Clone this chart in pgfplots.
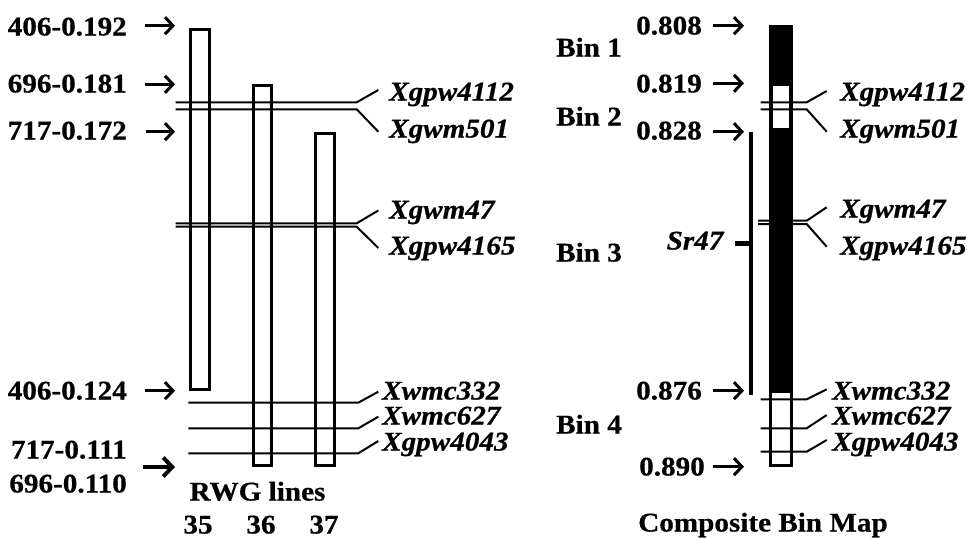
\documentclass[border=0pt]{standalone}
\usepackage{fontspec}
\setmainfont[FakeStretch=1.08, FakeBold=0.6]{Liberation Serif}
\usepackage{pgfplots}
\pgfplotsset{compat=1.18}
\usetikzlibrary{arrows.meta}
\begin{document}
\begin{tikzpicture}[
  lab/.style={font=\fontsize{27}{30}\selectfont\bfseries, inner sep=0pt, text height=17pt, text depth=0pt},
  ilab/.style={font=\fontsize{27}{30}\selectfont\bfseries\itshape, inner sep=0pt, text height=17pt, text depth=0pt},
  arr/.style={black, line width=3pt, -{Straight Barb[length=8pt,width=17pt]}},
]
\begin{axis}[width=967pt,height=538pt,scale only axis,
  xmin=0,xmax=967,ymin=0,ymax=538,y dir=reverse,
  axis line style={draw=none}, ticks=none, clip=false]
% ---------- left panel: RWG lines bars
\addplot[black, line width=3pt, line join=miter, line cap=rect] coordinates {(190,29.2)(209.5,29.2)(209.5,389.2)(190,389.2)(190,29.2)};
\addplot[black, line width=3pt, line join=miter, line cap=rect] coordinates {(253.2,85.5)(271.8,85.5)(271.8,465.8)(253.2,465.8)(253.2,85.5)};
\addplot[black, line width=3pt, line join=miter, line cap=rect] coordinates {(315.5,133.2)(334.5,133.2)(334.5,465.8)(315.5,465.8)(315.5,133.2)};
% marker lines left
\addplot[black, line width=2pt] coordinates {(175.7,102.3)(356.7,102.3)(378.3,90)};
\addplot[black, line width=2pt] coordinates {(175.7,109.3)(356.7,109.3)(378.3,131.7)};
\addplot[black, line width=2pt] coordinates {(175.7,223.3)(356.7,223.3)(378.3,210.5)};
\addplot[black, line width=2pt] coordinates {(175.7,226.7)(356.7,226.7)(378.3,248)};
\addplot[black, line width=2pt] coordinates {(188.3,402.7)(358.3,402.7)(378.3,391.7)};
\addplot[black, line width=2pt] coordinates {(188.3,428.3)(358.3,428.3)(378.3,416.7)};
\addplot[black, line width=2pt] coordinates {(188.3,453.3)(358.3,453.3)(378.3,441)};
% arrows left
\addplot[arr] coordinates {(145,25.7)(175,25.7)};
\addplot[arr] coordinates {(145,84.3)(175,84.3)};
\addplot[arr] coordinates {(146,131.7)(175,131.7)};
\addplot[arr] coordinates {(145,390.7)(175,390.7)};
\addplot[black, line width=4pt, -{Straight Barb[length=9pt,width=19pt]}] coordinates {(143,467)(175,467)};
% ---------- right panel: composite bin map
\addplot[fill=black, draw=none] coordinates {(769,25)(792.7,25)(792.7,392.7)(769,392.7)};
\addplot[fill=white, draw=none] coordinates {(773.3,86)(789.3,86)(789.3,128.3)(773.3,128.3)};
\addplot[black, line width=3pt, line join=miter, line cap=rect] coordinates {(770.5,26.5)(791.2,26.5)(791.2,465.2)(770.5,465.2)(770.5,26.5)};
% marker lines right
\addplot[black, line width=2pt] coordinates {(760.7,102.3)(806.7,102.3)(826.7,91)};
\addplot[black, line width=2pt] coordinates {(760.7,109.3)(806.7,109.3)(826.7,131.7)};
\addplot[black, line width=2pt] coordinates {(758,220.7)(806.7,220.7)(826.7,207.3)};
\addplot[black, line width=2pt] coordinates {(758,224)(806.7,224)(826.7,246.7)};
\addplot[black, line width=2pt] coordinates {(760.7,399.3)(806.7,399.3)(826.7,389.3)};
\addplot[black, line width=2pt] coordinates {(760.7,428.3)(806.7,428.3)(826.7,415)};
\addplot[black, line width=2pt] coordinates {(760.7,451.7)(806.7,451.7)(826.7,440)};
% arrows right
\addplot[arr] coordinates {(713,25.7)(744,25.7)};
\addplot[arr] coordinates {(713,83.3)(744,83.3)};
\addplot[arr] coordinates {(713,131.7)(744,131.7)};
\addplot[arr] coordinates {(713,390.7)(744,390.7)};
\addplot[arr] coordinates {(713,466.7)(744,466.7)};
% Sr47 interval
\addplot[black, line width=4pt] coordinates {(751,132)(751,395)};
\addplot[black, line width=5pt] coordinates {(735,243)(751,243)};
% ---------- text
\node[lab, anchor=east] at (axis cs:127,27) {406-0.192};
\node[lab, anchor=east] at (axis cs:127,84) {696-0.181};
\node[lab, anchor=east] at (axis cs:127,131) {717-0.172};
\node[lab, anchor=east] at (axis cs:127,391) {406-0.124};
\node[lab, anchor=east] at (axis cs:127,450) {717-0.111};
\node[lab, anchor=east] at (axis cs:127,484) {696-0.110};
\node[ilab, anchor=west] at (axis cs:389,92) {Xgpw4112};
\node[ilab, anchor=west] at (axis cs:389,129) {Xgwm501};
\node[ilab, anchor=west] at (axis cs:389,210) {Xgwm47};
\node[ilab, anchor=west] at (axis cs:389,246) {Xgpw4165};
\node[ilab, anchor=west] at (axis cs:382,391) {Xwmc332};
\node[ilab, anchor=west] at (axis cs:382,416) {Xwmc627};
\node[ilab, anchor=west] at (axis cs:382,442) {Xgpw4043};
\node[lab] at (axis cs:257.5,492) {RWG lines};
\node[lab] at (axis cs:198,525) {35};
\node[lab] at (axis cs:261,525) {36};
\node[lab] at (axis cs:324,525) {37};
\node[lab, anchor=east] at (axis cs:702,26) {0.808};
\node[lab, anchor=east] at (axis cs:702,84) {0.819};
\node[lab, anchor=east] at (axis cs:702,131) {0.828};
\node[lab, anchor=east] at (axis cs:702,391) {0.876};
\node[lab, anchor=east] at (axis cs:705,467) {0.890};
\node[lab] at (axis cs:589,48) {Bin 1};
\node[lab] at (axis cs:589,117) {Bin 2};
\node[lab] at (axis cs:589,253) {Bin 3};
\node[lab] at (axis cs:589,425) {Bin 4};
\node[ilab] at (axis cs:695,241) {Sr47};
\node[ilab, anchor=west] at (axis cs:840,92) {Xgpw4112};
\node[ilab, anchor=west] at (axis cs:840,129) {Xgwm501};
\node[ilab, anchor=west] at (axis cs:840,209) {Xgwm47};
\node[ilab, anchor=west] at (axis cs:840,246) {Xgpw4165};
\node[ilab, anchor=west] at (axis cs:832,391) {Xwmc332};
\node[ilab, anchor=west] at (axis cs:832,416) {Xwmc627};
\node[ilab, anchor=west] at (axis cs:832,442) {Xgpw4043};
\node[lab] at (axis cs:763,523) {Composite Bin Map};
\end{axis}
\end{tikzpicture}
\end{document}
